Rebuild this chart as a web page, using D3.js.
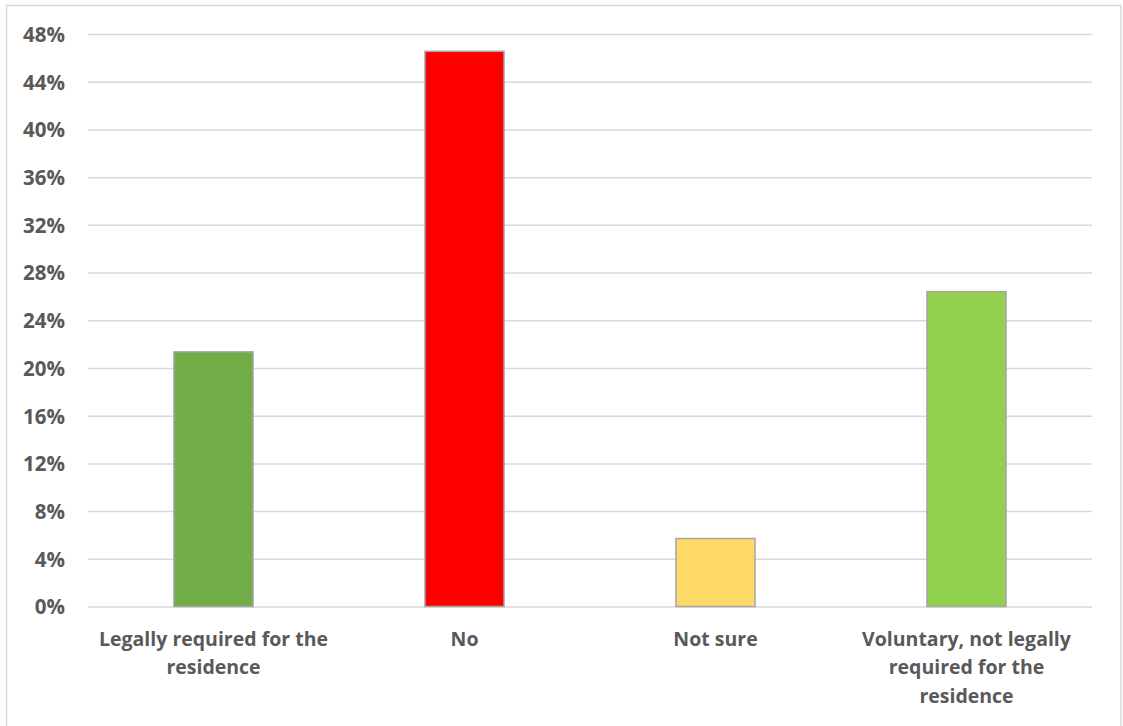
<!DOCTYPE html>
<html>
<head>
<meta charset="utf-8">
<script src="https://cdn.jsdelivr.net/npm/d3@7"></script>
<style>
  html, body { margin: 0; padding: 0; background: #ffffff; }
  svg { display: block; }
  text { font-family: "Open Sans", "Liberation Sans", sans-serif; font-weight: bold; fill: #595959; }
</style>
</head>
<body>
<svg id="chart" width="1123" height="726"></svg>
<script>
// Survey answers and their share of respondents (%)
const categories = [
  "Legally required for the residence",
  "No",
  "Not sure",
  "Voluntary, not legally required for the residence"
];
const values = [21.35, 46.55, 5.7, 26.4];
const barColors = ["#70ad47", "#ff0000", "#ffd966", "#92d050"];
// Wrapped category labels, one entry per line
const categoryLines = [
  ["Legally required for the", "residence"],
  ["No"],
  ["Not sure"],
  ["Voluntary, not legally", "required for the", "residence"]
];
const yTicks = [0, 4, 8, 12, 16, 20, 24, 28, 32, 36, 40, 44, 48];

const svg = d3.select("#chart");
const plot = { left: 88, right: 1092, top: 34, bottom: 606.5 };

// Outer frame of the chart area
svg.append("rect")
  .attr("x", 6.5).attr("y", 5.5)
  .attr("width", 1114.5).attr("height", 730)
  .attr("fill", "#ffffff")
  .attr("stroke", "#d9d9d9").attr("stroke-width", 1.5);

const x = d3.scaleBand()
  .domain(categories)
  .range([plot.left, plot.right])
  .paddingInner(0.685)
  .paddingOuter(0.3425);

const y = d3.scaleLinear()
  .domain([0, 48])
  .range([plot.bottom, plot.top]);

// Horizontal gridlines with percentage labels
const yAxis = d3.axisLeft(y)
  .tickValues(yTicks)
  .tickSize(-(plot.right - plot.left))
  .tickPadding(23)
  .tickFormat(d => d + "%");

const gy = svg.append("g")
  .attr("transform", `translate(${plot.left},0)`)
  .call(yAxis);
gy.select(".domain").remove();
gy.selectAll(".tick line")
  .attr("stroke", "#d9d9d9").attr("stroke-width", 1.5);
gy.selectAll(".tick text")
  .attr("font-size", 20.5)
  .attr("dy", "0.36em")
  .style("font-family", '"Open Sans", sans-serif')
  .style("font-weight", "bold")
  .attr("fill", "#595959");

// Bars
svg.append("g")
  .selectAll("rect")
  .data(categories)
  .join("rect")
  .attr("x", d => x(d))
  .attr("width", x.bandwidth())
  .attr("y", (d, i) => y(values[i]))
  .attr("height", (d, i) => y(0) - y(values[i]))
  .attr("fill", (d, i) => barColors[i])
  .attr("stroke", "#a6a6a6")
  .attr("stroke-width", 1.5);

// Category labels below the axis
const labels = svg.append("g")
  .selectAll("text")
  .data(categories)
  .join("text")
  .attr("text-anchor", "middle")
  .attr("font-size", 19.5)
  .attr("x", d => x(d) + x.bandwidth() / 2)
  .attr("y", 645.5);

labels.each(function(d, i) {
  const t = d3.select(this);
  categoryLines[i].forEach((line, j) => {
    t.append("tspan")
      .attr("x", x(d) + x.bandwidth() / 2)
      .attr("dy", j === 0 ? 0 : 28.5)
      .text(line);
  });
});
</script>
</body>
</html>
